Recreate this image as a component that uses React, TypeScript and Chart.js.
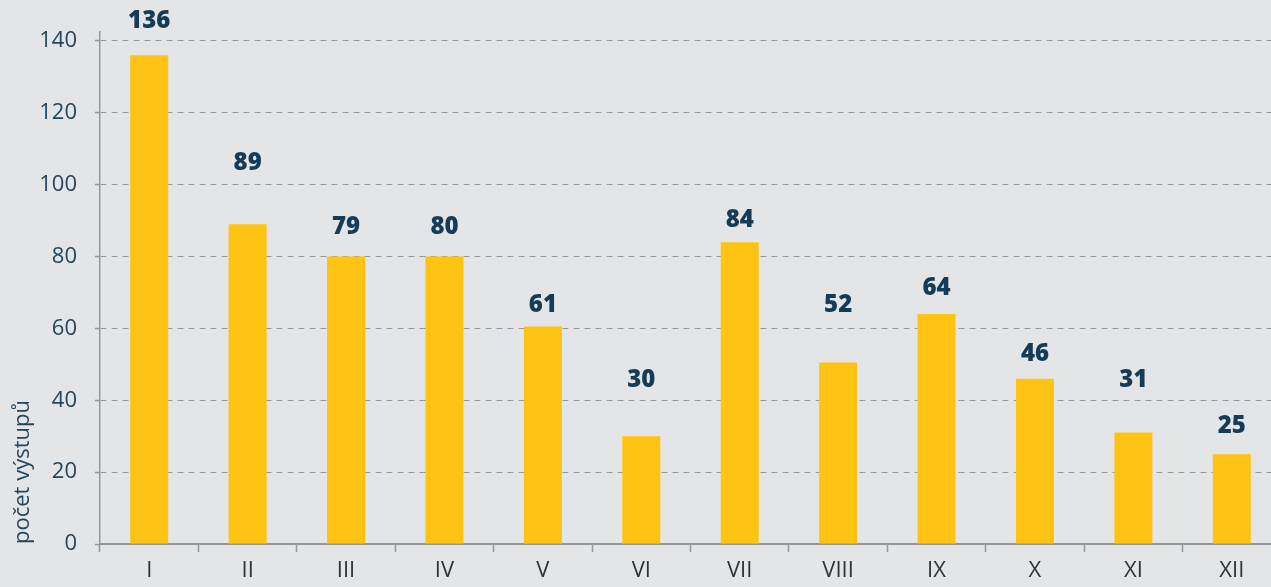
import React, { useEffect, useRef } from "react";
import { Chart, registerables } from "chart.js";

Chart.register(...registerables);

const categories = ["I", "II", "III", "IV", "V", "VI", "VII", "VIII", "IX", "X", "XI", "XII"];
// bar heights as drawn in the picture
const barValues = [136, 89, 80, 80, 60.5, 30, 84, 50.5, 64, 46, 31, 25];
// printed value labels
const labelTexts = ["136", "89", "79", "80", "61", "30", "84", "52", "64", "46", "31", "25"];
// vertical anchor (in axis units) of each printed label
const labelAnchors = [145.5, 106, 88.1, 88.3, 66.6, 45.7, 90, 66.6, 71.1, 52.7, 45.7, 32.9];
const yTicks = [0, 20, 40, 60, 80, 100, 120, 140];

const BG = "#e4e5e7";
const BAR = "#fec313";
const GRID = "#979797";
const NAVY = "#163b56";
const TICK_NAVY = "#21475f";

const labelPlugin = {
  id: "valueLabels",
  afterDatasetsDraw(chart: any) {
    const meta = chart.getDatasetMeta(1);
    const ctx = chart.ctx;
    ctx.save();
    ctx.fillStyle = NAVY;
    ctx.font = "800 24px 'Open Sans'";
    ctx.textAlign = "center";
    ctx.textBaseline = "middle";
    meta.data.forEach((pt: any, i: number) => {
      ctx.fillText(labelTexts[i], pt.x, pt.y);
    });
    ctx.restore();
  },
};

export default function App() {
  const ref = useRef<HTMLCanvasElement | null>(null);

  useEffect(() => {
    if (!ref.current) return;
    const chart = new Chart(ref.current, {
      type: "bar",
      data: {
        labels: categories,
        datasets: [
          {
            type: "bar",
            data: barValues,
            backgroundColor: BAR,
            borderWidth: 0,
            categoryPercentage: 1,
            barPercentage: 0.386,
          } as any,
          {
            type: "line",
            data: labelAnchors,
            showLine: false,
            pointRadius: 0,
            pointHoverRadius: 0,
            borderColor: "transparent",
            backgroundColor: "transparent",
          } as any,
        ],
      },
      options: {
        animation: false,
        responsive: false,
        maintainAspectRatio: false,
        devicePixelRatio: 1,
        layout: { padding: { top: 32, left: 0, right: 0, bottom: 0 } },
        plugins: {
          legend: { display: false },
          tooltip: { enabled: false },
        },
        scales: {
          x: {
            offset: true,
            grid: {
              offset: true,
              drawOnChartArea: false,
              drawTicks: true,
              tickLength: 8,
              tickColor: GRID,
              tickWidth: 1.5,
            },
            border: { display: true, color: GRID, width: 2 },
            ticks: {
              color: "#333333",
              font: { family: "'Open Sans'", size: 22 },
              padding: 6,
            },
            afterFit(scale: any) {
              scale.height = 43;
            },
          },
          y: {
            min: 0,
            max: 142.5,
            grid: {
              color: GRID,
              lineWidth: 1,
              tickLength: 5,
              tickColor: GRID,
              tickWidth: 1.5,
              tickBorderDash: [],
            } as any,
            border: { display: true, color: GRID, width: 1.5, dash: [6, 5] } as any,
            ticks: {
              stepSize: 20,
              color: TICK_NAVY,
              font: { family: "'Open Sans'", size: 22 },
              padding: 18,
            },
            afterBuildTicks(scale: any) {
              scale.ticks = yTicks.map((v) => ({ value: v }));
            },
            title: {
              display: true,
              text: "počet výstupů",
              align: "start",
              color: TICK_NAVY,
              font: { family: "'Open Sans'", size: 22 },
              padding: { top: 10, bottom: 4 },
            },
            afterFit(scale: any) {
              scale.width = 100;
            },
          },
        },
      },
      plugins: [labelPlugin],
    });
    return () => chart.destroy();
  }, []);

  return (
    <div
      style={{
        position: "fixed",
        left: 0,
        top: 0,
        width: 1271,
        height: 587,
        overflow: "hidden",
        background: BG,
      }}
    >
      <canvas ref={ref} width={1281} height={587} style={{ display: "block" }} />
    </div>
  );
}
